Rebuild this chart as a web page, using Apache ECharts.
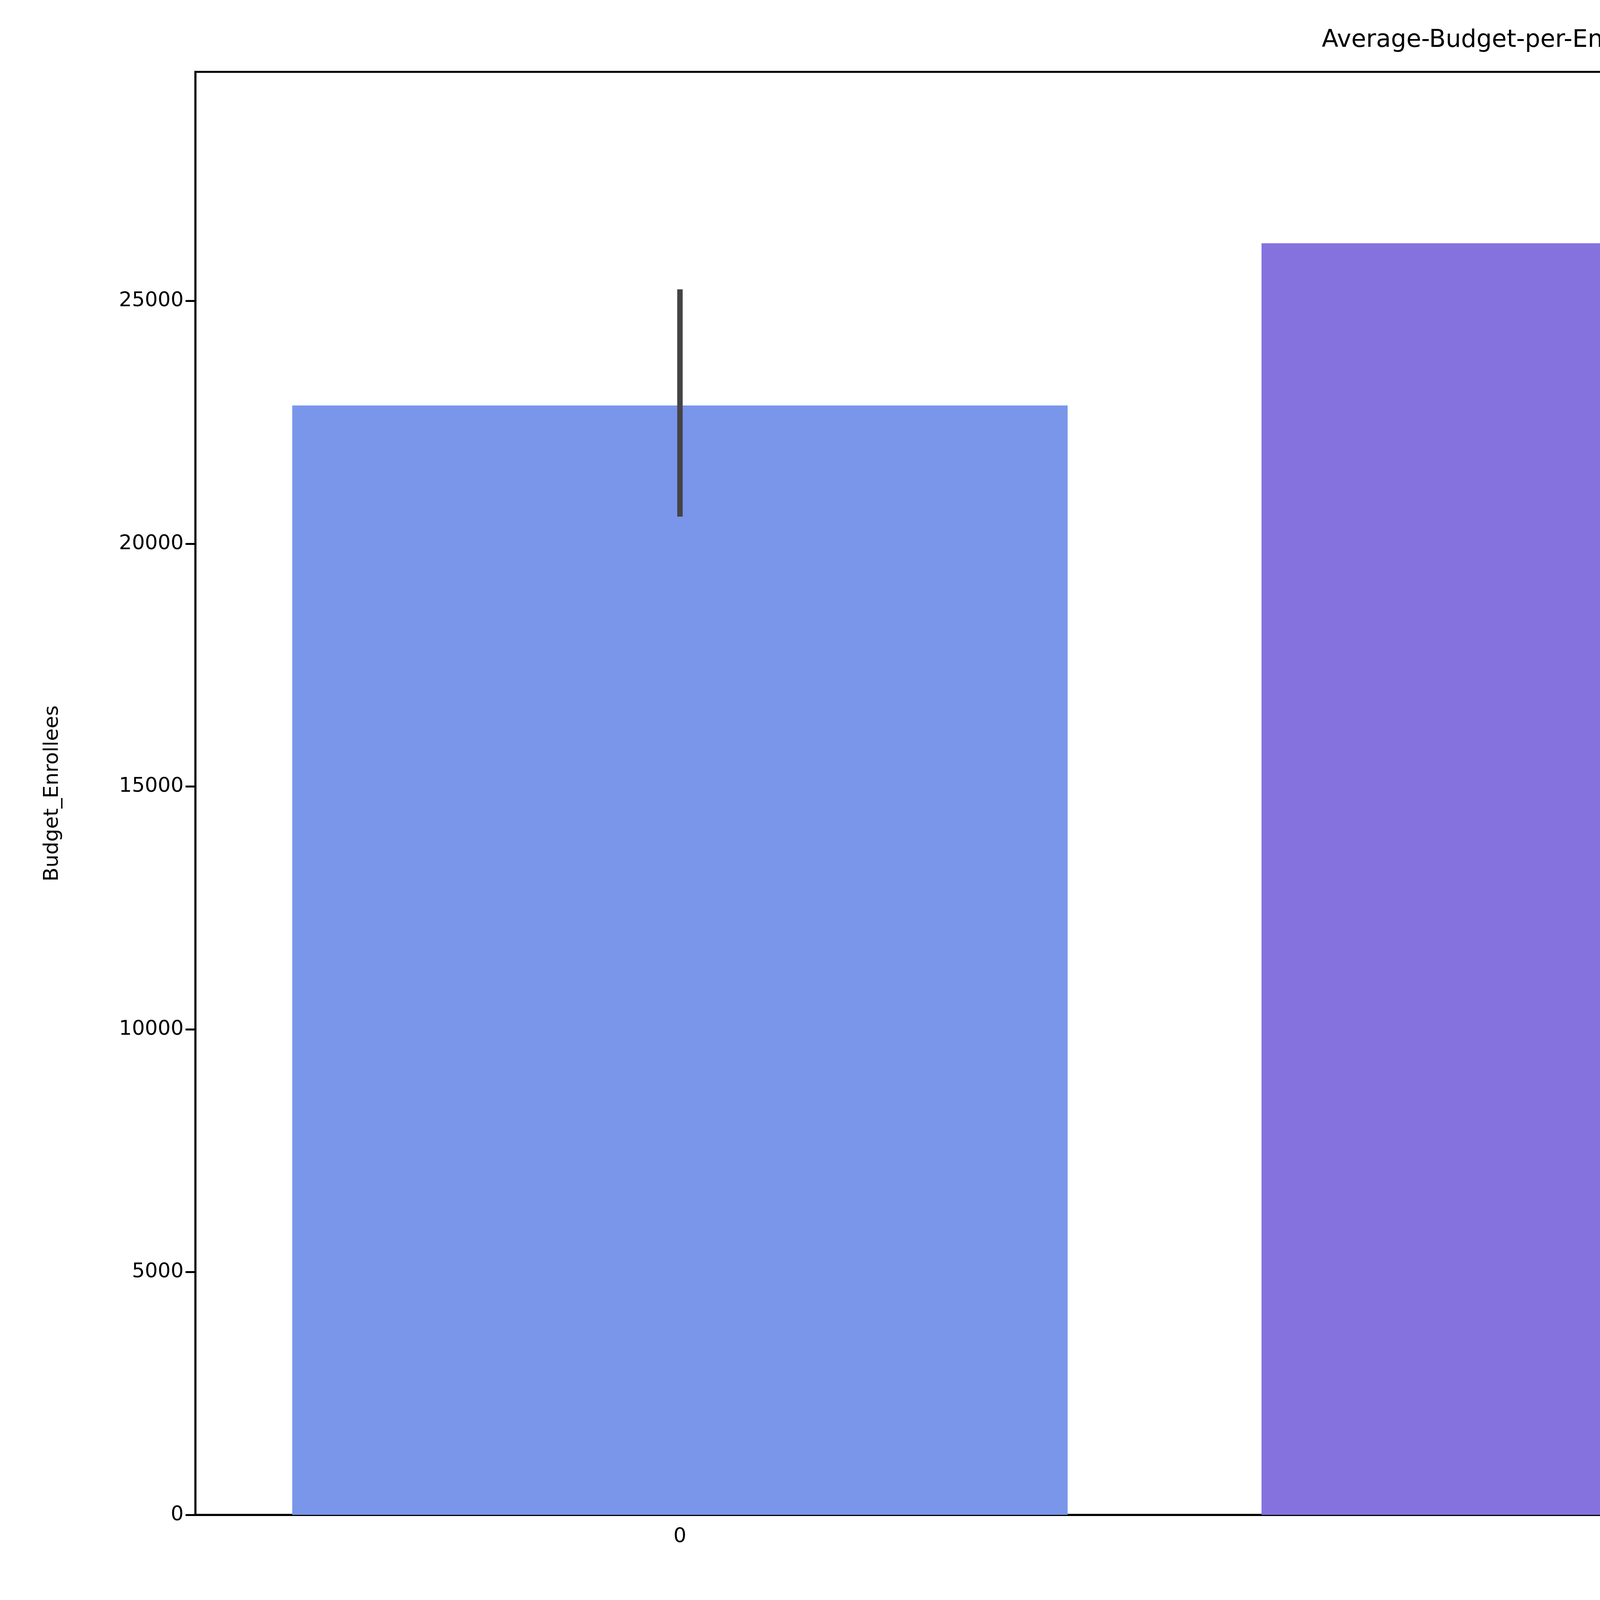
<!DOCTYPE html>
<html><head><meta charset="utf-8">
<script src="https://cdn.jsdelivr.net/npm/echarts@6/dist/echarts.min.js"></script>
<style>html,body{margin:0;padding:0;background:#fff;overflow:hidden}#c{width:8000px;height:4195px}</style>
</head><body><div id="c"></div>
<script>
const categories = ['0','1','2'];
const means = [22850, 26190, 18220];
const errLow = [20560, 24300, 15560];
const errHigh = [25240, 28370, 21140];
const colors = ['#7A96EB','#8572DF','#C43E7E'];

const chart = echarts.init(document.getElementById('c'));
const F = 'DejaVu Sans';
chart.setOption({
  backgroundColor:'#fff',
  animation:false,
  title:{text:'Average-Budget-per-Enrollee-by-Cluster',left:'center',top:68,textStyle:{fontFamily:F,fontSize:62,fontWeight:'normal',color:'#000'}},
  grid:{left:500,right:56,top:184,bottom:317,show:true,borderColor:'#000',borderWidth:5,backgroundColor:'transparent'},
  xAxis:{type:'category',data:categories,name:'Cluster',nameLocation:'middle',nameGap:150,
    nameTextStyle:{fontFamily:F,fontSize:52,color:'#000'},
    axisLine:{lineStyle:{color:'#000',width:5}},axisTick:{alignWithLabel:true,length:25,lineStyle:{color:'#000',width:5}},
    axisLabel:{fontFamily:F,fontSize:52,color:'#000',margin:30}},
  yAxis:{type:'value',min:0,max:29720,interval:5000,name:'Budget_Enrollees',nameLocation:'middle',nameGap:340,
    nameTextStyle:{fontFamily:F,fontSize:52,color:'#000'},
    axisLine:{show:true,lineStyle:{color:'#000',width:5}},axisTick:{show:true,length:25,lineStyle:{color:'#000',width:5}},
    splitLine:{show:false},
    axisLabel:{fontFamily:F,fontSize:52,color:'#000',margin:30,showMaxLabel:false,formatter:v=>String(v)}},
  series:[
    {type:'bar',barWidth:'80%',data:means.map((v,i)=>({value:v,itemStyle:{color:colors[i]}}))},
    {type:'custom',data:categories.map((c,i)=>[i,errLow[i],errHigh[i]]),z:10,
     renderItem:(p,api)=>{const a=api.coord([api.value(0),api.value(1)]),b=api.coord([api.value(0),api.value(2)]);
       return {type:'line',shape:{x1:a[0],y1:a[1],x2:b[0],y2:b[1]},style:{stroke:'#444',lineWidth:14}};}}
  ]
});
</script></body></html>
